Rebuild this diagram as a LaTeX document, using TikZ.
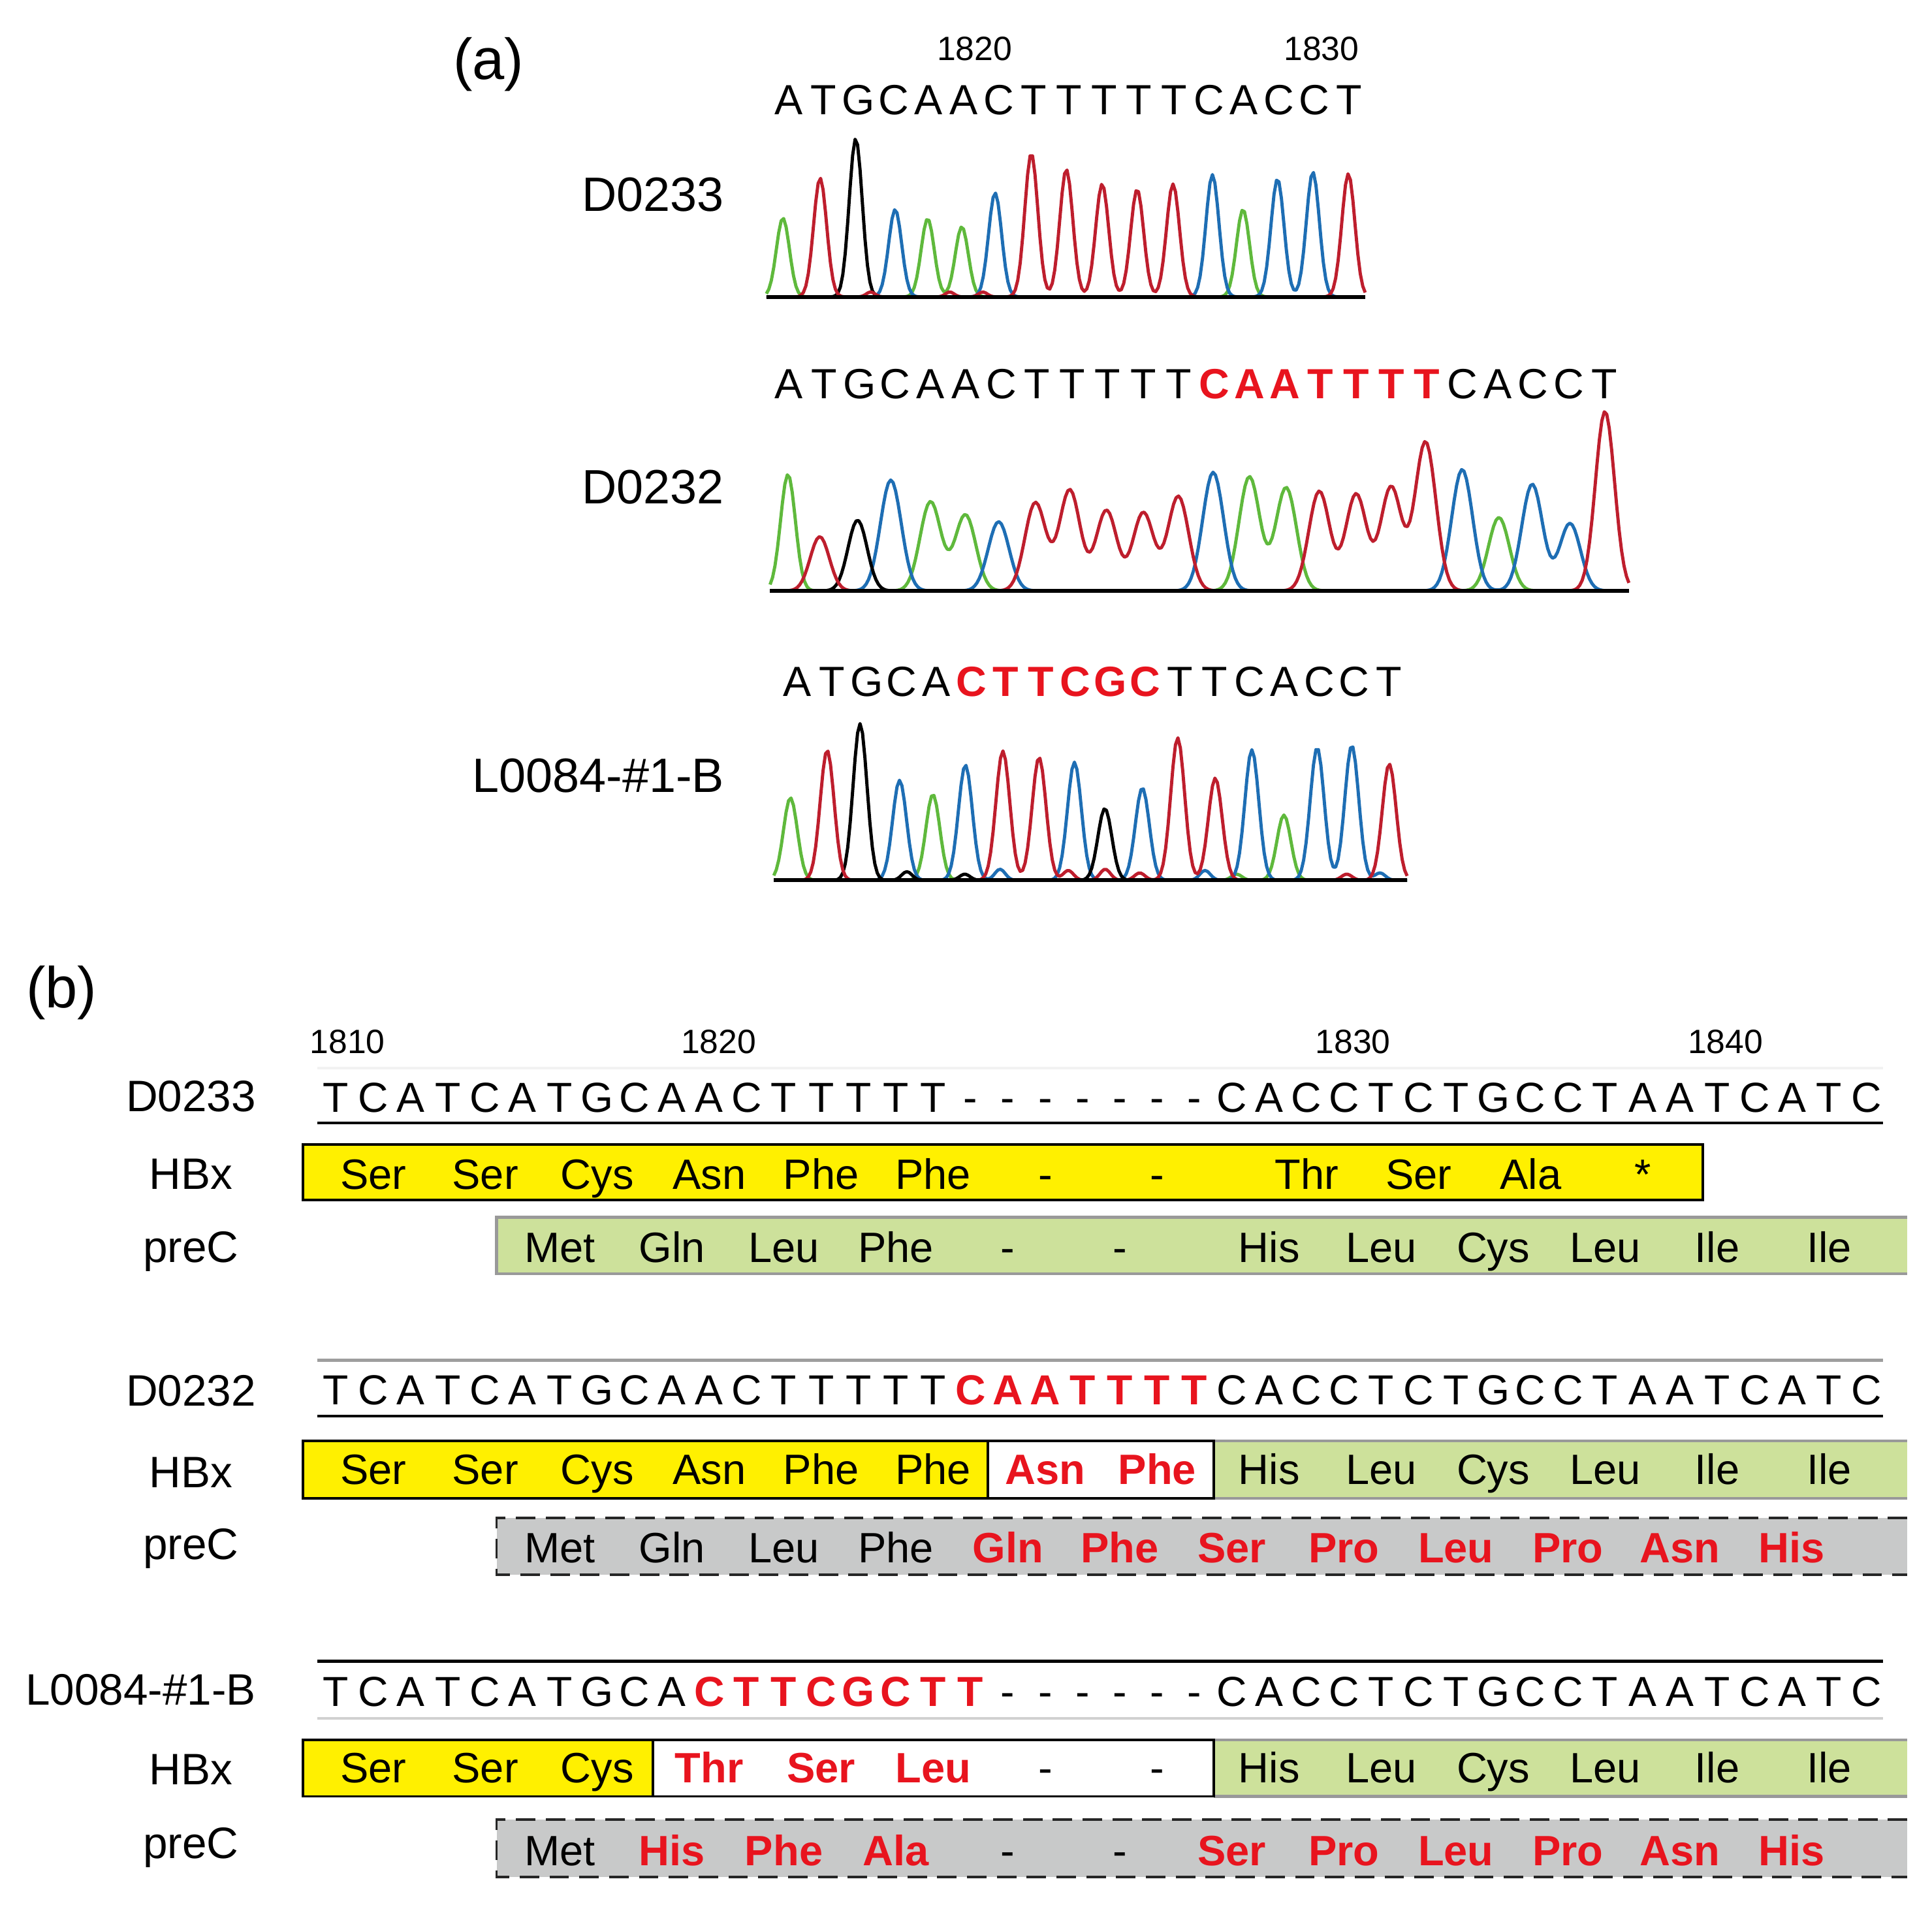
\documentclass[tikz,border=0pt]{standalone}
\usepackage{fontspec}
\setmainfont{Liberation Sans}
\newcommand{\setfs}[1]{\fontsize{#1pt}{#1pt}\selectfont}
\definecolor{trA}{RGB}{95,185,60}
\definecolor{trT}{RGB}{190,30,45}
\definecolor{trC}{RGB}{30,110,180}
\definecolor{mutred}{RGB}{232,20,30}
\definecolor{hbxy}{RGB}{255,240,0}
\definecolor{precg}{RGB}{205,225,155}
\definecolor{frameg}{RGB}{200,201,201}
\begin{document}
\begin{tikzpicture}[x=0.0188712cm, y=-0.0188712cm,
  declare function={pk(\xx,\mm,\hh,\ww)=\hh*exp(-min(abs((\xx-\mm)/\ww),6)^2);},
  tag/.style={font=\setfs{25.2}},
  posn/.style={font=\setfs{14.7}},
  sqa/.style={font=\setfs{18.4}},
  sqam/.style={font=\setfs{18.4}\bfseries, text=mutred},
  smp/.style={font=\setfs{21}, anchor=base east},
  smpb/.style={font=\setfs{19.2}, anchor=base east},
  sqb/.style={font=\setfs{18.3}},
  sqbm/.style={font=\setfs{18.3}\bfseries, text=mutred},
  rowlab/.style={font=\setfs{19.2}},
  aa/.style={font=\setfs{18.5}},
  aam/.style={font=\setfs{18.5}\bfseries, text=mutred},
  trc/.style={line width=1.4pt, line join=round},
  base/.style={line width=1.7pt},
  ybox/.style={fill=hbxy, draw=black, line width=1.1pt},
  wbox/.style={fill=white, draw=black, line width=1.1pt},
  gline/.style={draw=black!40, line width=1.2pt},
  dbox/.style={draw=black!85, line width=1.1pt, dash pattern=on 8.5pt off 4.5pt}]
\tikzstyle{every node}+=[inner sep=0pt, anchor=base]
\fill[white] (0,0) rectangle (1568,1549);
\useasboundingbox (0,0) rectangle (1568,1549);

% (a) chromatograms
\node[tag] (tag-a) at (396.5,64.5) {(a)};
\node[posn] (a-1820) at (791,49) {1820};
\node[posn] (a-1830) at (1072.5,49) {1830};

\foreach \ch [count=\i from 0] in {A,T,G,C,A,A,C,T,T,T,T,T,C,A,C,C,T}
  \node[sqa] (a1-\i) at ({640+28.44*\i},93.1) {\ch};
\node[smp] (a-d0233) at (588,171.5) {D0233};
\draw[trc, trA] plot[domain=0:486, samples=244] ({622+\x}, {241-(pk(\x,13.4,64,7.5)+pk(\x,130.9,63.5,7.5)+pk(\x,158.6,57,7.5)+pk(\x,386.8,71,7.5))});
\draw[trc, trC] plot[domain=0:486, samples=244] ({622+\x}, {241-(pk(\x,104.5,71,7.5)+pk(\x,185.6,84.5,7.5)+pk(\x,362,99.3,7.5)+pk(\x,414.8,95.8,7.5)+pk(\x,443.5,101.4,7.5))});
\draw[trc, black] plot[domain=0:486, samples=244] ({622+\x}, {241-pk(\x,72.5,128.5,7.5)});
\draw[trc, trT] plot[domain=0:486, samples=244] ({622+\x}, {241-(pk(\x,43.6,96.5,7.5)+pk(\x,215,116.5,7.5)+pk(\x,243.4,103.6,7.5)+pk(\x,272.5,91.7,7.5)+pk(\x,300.9,87.3,7.5)+pk(\x,330,91.7,7.5)+pk(\x,472.3,100,7.5)+pk(\x,84.6,4,5)+pk(\x,148.8,4,5)+pk(\x,175.7,4,5))});
\draw[base] (622,241) -- (1108,241);

\foreach \ch [count=\i from 0] in {A,T,G,C,A,A,C,T,T,T,T,T}
  \node[sqa] (a2-\i) at ({640+28.78*\i},323.4) {\ch};
\foreach \ch [count=\i from 12] in {C,A,A,T,T,T,T}
  \node[sqam] (a2-\i) at ({640+28.78*\i},323.4) {\ch};
\foreach \ch [count=\i from 19] in {C,A,C,C,T}
  \node[sqa] (a2-\i) at ({640+28.78*\i},323.4) {\ch};
\node[smp] (a-d0232) at (588,409) {D0232};
\draw[trc, trA] plot[domain=0:697, samples=350] ({625+\x}, {479.6-(pk(\x,14.5,94.5,8.5)+pk(\x,130.2,72.4,12)+pk(\x,158.5,61.8,12)+pk(\x,389,92.7,12)+pk(\x,418.8,83.9,12)+pk(\x,591.5,59.6,12))});
\draw[trc, trC] plot[domain=0:697, samples=350] ({625+\x}, {479.6-(pk(\x,98,90,12)+pk(\x,185.5,56.2,12)+pk(\x,359.6,96.3,12)+pk(\x,561.7,98.6,12)+pk(\x,618.5,86.6,12)+pk(\x,649.2,54.8,12))});
\draw[trc, black] plot[domain=0:697, samples=350] ({625+\x}, {479.6-pk(\x,71,57.4,11)});
\draw[trc, trT] plot[domain=0:697, samples=350] ({625+\x}, {479.6-(pk(\x,40.3,44,11)+pk(\x,215.3,71.6,12)+pk(\x,243.2,82,12)+pk(\x,273,65.4,12)+pk(\x,302.9,63.6,12)+pk(\x,331.3,76.8,12)+pk(\x,445.7,80.9,12)+pk(\x,475.6,78.6,12)+pk(\x,504,84.4,12)+pk(\x,531.9,121,12)+pk(\x,677.6,145.7,11))});
\draw[base] (625,479.6) -- (1322,479.6);

\foreach \ch [count=\i from 0] in {A,T,G,C,A}
  \node[sqa] (a3-\i) at ({647+28.24*\i},565) {\ch};
\foreach \ch [count=\i from 5] in {C,T,T,C,G,C}
  \node[sqam] (a3-\i) at ({647+28.24*\i},565) {\ch};
\foreach \ch [count=\i from 11] in {T,T,C,A,C,C,T}
  \node[sqa] (a3-\i) at ({647+28.24*\i},565) {\ch};
\node[smp] (a-l0084) at (588,642.8) {L0084-\#1-B};
\draw[trc, trA] plot[domain=0:514, samples=258] ({628+\x}, {714.5-(pk(\x,13.5,67,8)+pk(\x,129.1,69.7,8)+pk(\x,414,53,8)+pk(\x,375.6,5,6))});
\draw[trc, trC] plot[domain=0:514, samples=258] ({628+\x}, {714.5-(pk(\x,102.1,81.2,8)+pk(\x,155.5,93.6,8)+pk(\x,244,95.9,8)+pk(\x,299.1,75,8)+pk(\x,388,106,8)+pk(\x,441,107.7,8)+pk(\x,469.1,109.5,8)+pk(\x,183.6,9,6)+pk(\x,350,8,6)+pk(\x,492,6,6))});
\draw[trc, black] plot[domain=0:514, samples=258] ({628+\x}, {714.5-(pk(\x,70,127.2,8)+pk(\x,268.7,58.3,8)+pk(\x,108,7,6)+pk(\x,155,5,6))});
\draw[trc, trT] plot[domain=0:514, samples=258] ({628+\x}, {714.5-(pk(\x,43.3,105.6,8)+pk(\x,185.9,105,8)+pk(\x,215.3,99.8,8)+pk(\x,327.8,115.7,8)+pk(\x,358.3,83,8)+pk(\x,499.5,94.5,8)+pk(\x,239,8,6)+pk(\x,269,9,6)+pk(\x,297,6,6)+pk(\x,465,5,6))});
\draw[base] (628,714.5) -- (1142,714.5);

% (b) alignments
\node[tag] (tag-b) at (50,818) {(b)};
\node[posn] (b-1810) at (282,855) {1810};
\node[posn] (b-1820) at (583.2,855) {1820};
\node[posn] (b-1830) at (1098,855) {1830};
\node[posn] (b-1840) at (1400.3,855) {1840};

\draw[line width=1pt, black!5] (257.6,867) -- (1528.4,867);
\foreach \ch [count=\i from 0] in {T,C,A,T,C,A,T,G,C,A,A,C,T,T,T,T,T,-,-,-,-,-,-,-,C,A,C,C,T,C,T,G,C,C,T,A,A,T,C,A,T,C}
  \node[sqb] (b1-\i) at ({272.6+30.3*\i},902.5) {\ch};
\draw[line width=1.2pt] (257.6,911.5) -- (1528.4,911.5);
\node[smpb] (b-d0233) at (208,902) {D0233};
\draw[ybox] (246,929) rectangle (1382,974);
\fill[precg] (403,988) rectangle (1548,1034);
\draw[gline] (1548,988) -- (403,988) -- (403,1034) -- (1548,1034);
\node[rowlab] (hbx-1) at (155,965.4) {HBx};
\node[rowlab] (prec-1) at (155,1024.5) {preC};
\foreach \a/\k in {Ser/1,Ser/4,Cys/7,Asn/10,Phe/13,Phe/16,-/19,-/22,Thr/26,Ser/29,Ala/32,*/35}
  \node[aa] (h1-\k) at ({272.6+30.3*\k},965) {\a};
\foreach \a/\k in {Met/6,Gln/9,Leu/12,Phe/15,-/18,-/21,His/25,Leu/28,Cys/31,Leu/34,Ile/37,Ile/40}
  \node[aa] (p1-\k) at ({272.6+30.3*\k},1024.5) {\a};

\draw[line width=1.5pt, black!38] (257.6,1104) -- (1528.4,1104);
\foreach \ch [count=\i from 0] in {T,C,A,T,C,A,T,G,C,A,A,C,T,T,T,T,T}
  \node[sqb] (b2-\i) at ({272.6+30.3*\i},1140) {\ch};
\foreach \ch [count=\i from 17] in {C,A,A,T,T,T,T}
  \node[sqbm] (b2-\i) at ({272.6+30.3*\i},1140) {\ch};
\foreach \ch [count=\i from 24] in {C,A,C,C,T,C,T,G,C,C,T,A,A,T,C,A,T,C}
  \node[sqb] (b2-\i) at ({272.6+30.3*\i},1140) {\ch};
\draw[line width=1.2pt] (257.6,1149.5) -- (1528.4,1149.5);
\node[smpb] (b-d0232) at (208,1141) {D0232};
\fill[precg] (985,1169.4) rectangle (1548,1216.2);
\draw[gline] (985,1169.4) -- (1548,1169.4) (985,1216.2) -- (1548,1216.2);
\draw[ybox] (246,1169.4) rectangle (801.6,1216.2);
\draw[wbox] (801.6,1169.4) rectangle (985,1216.2);
\fill[frameg] (403,1232) rectangle (1548,1278);
\draw[dbox] (1548,1232) -- (403,1232) -- (403,1278) -- (1548,1278);
\node[rowlab] (hbx-2) at (155,1207.4) {HBx};
\node[rowlab] (prec-2) at (155,1265.7) {preC};
\foreach \a/\k in {Ser/1,Ser/4,Cys/7,Asn/10,Phe/13,Phe/16,His/25,Leu/28,Cys/31,Leu/34,Ile/37,Ile/40}
  \node[aa] (h2-\k) at ({272.6+30.3*\k},1205) {\a};
\foreach \a/\k in {Asn/19,Phe/22}
  \node[aam] (h2-\k) at ({272.6+30.3*\k},1205) {\a};
\foreach \a/\k in {Met/6,Gln/9,Leu/12,Phe/15}
  \node[aa] (p2-\k) at ({272.6+30.3*\k},1268.3) {\a};
\foreach \a/\k in {Gln/18,Phe/21,Ser/24,Pro/27,Leu/30,Pro/33,Asn/36,His/39}
  \node[aam] (p2-\k) at ({272.6+30.3*\k},1268.3) {\a};

\draw[line width=1.2pt] (257.6,1348.3) -- (1528.4,1348.3);
\foreach \ch [count=\i from 0] in {T,C,A,T,C,A,T,G,C,A}
  \node[sqb] (b3-\i) at ({272.6+30.3*\i},1385) {\ch};
\foreach \ch [count=\i from 10] in {C,T,T,C,G,C,T,T}
  \node[sqbm] (b3-\i) at ({272.6+30.3*\i},1385) {\ch};
\foreach \ch [count=\i from 18] in {-,-,-,-,-,-,C,A,C,C,T,C,T,G,C,C,T,A,A,T,C,A,T,C}
  \node[sqb] (b3-\i) at ({272.6+30.3*\i},1385) {\ch};
\draw[line width=1.2pt, black!18] (257.6,1394.6) -- (1528.4,1394.6);
\node[smpb] (b-l0084) at (208,1384) {L0084-\#1-B};
\fill[precg] (985,1412) rectangle (1548,1458);
\draw[gline] (985,1412) -- (1548,1412) (985,1458) -- (1548,1458);
\draw[ybox] (246,1412) rectangle (530,1458);
\draw[wbox] (530,1412) rectangle (985,1458);
\fill[frameg] (403,1477) rectangle (1548,1523.6);
\draw[dbox] (1548,1477) -- (403,1477) -- (403,1523.6) -- (1548,1523.6);
\node[rowlab] (hbx-3) at (155,1448.5) {HBx};
\node[rowlab] (prec-3) at (155,1508.6) {preC};
\foreach \a/\k in {Ser/1,Ser/4,Cys/7,-/19,-/22,His/25,Leu/28,Cys/31,Leu/34,Ile/37,Ile/40}
  \node[aa] (h3-\k) at ({272.6+30.3*\k},1447) {\a};
\foreach \a/\k in {Thr/10,Ser/13,Leu/16}
  \node[aam] (h3-\k) at ({272.6+30.3*\k},1447) {\a};
\foreach \a/\k in {Met/6,-/18,-/21}
  \node[aa] (p3-\k) at ({272.6+30.3*\k},1514) {\a};
\foreach \a/\k in {His/9,Phe/12,Ala/15,Ser/24,Pro/27,Leu/30,Pro/33,Asn/36,His/39}
  \node[aam] (p3-\k) at ({272.6+30.3*\k},1514) {\a};
\end{tikzpicture}
\end{document}
